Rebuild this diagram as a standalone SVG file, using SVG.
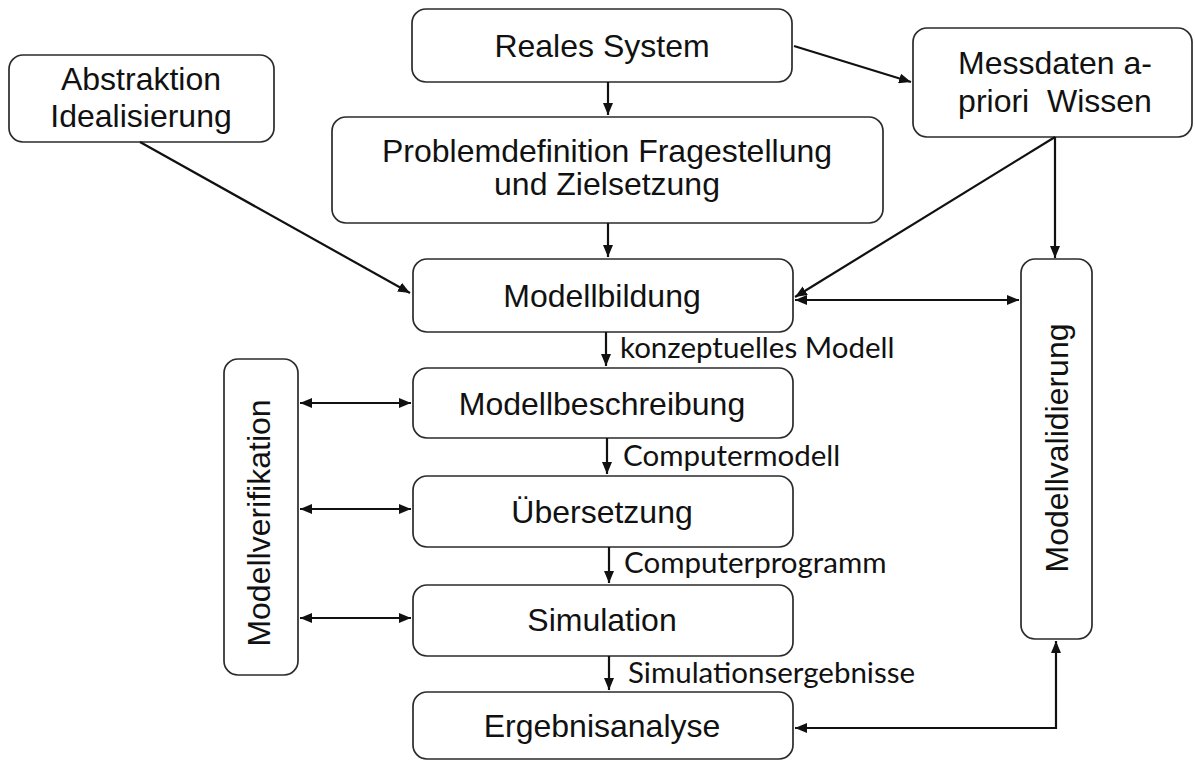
<svg xmlns="http://www.w3.org/2000/svg" width="1195" height="762" viewBox="0 0 1195 762">
  <style>
    .box { fill: #ffffff; stroke: #2b2b2b; stroke-width: 1.7; }
    .lbl { font-family: "Liberation Sans", Arial, sans-serif; font-size: 32px; fill: #111111; text-anchor: middle; }
    .edge { fill: none; stroke: #111111; stroke-width: 2.2; }
    .note { font-family: Lato, "Open Sans", sans-serif; font-size: 29.5px; fill: #111111; }
  </style>
  <defs>
    <marker id="head" viewBox="0 0 12 10" refX="12" refY="5" markerWidth="12" markerHeight="10" markerUnits="userSpaceOnUse" orient="auto-start-reverse">
      <path d="M0,0 L12,5 L0,10 z" fill="#111111"/>
    </marker>
  </defs>
  <rect width="1195" height="762" fill="#ffffff"/>

  <!-- process boxes -->
  <g id="reales-system">
    <rect class="box" x="412" y="9" width="380" height="73" rx="14"/>
    <text class="lbl" x="602" y="57">Reales System</text>
  </g>
  <g id="abstraktion">
    <rect class="box" x="9" y="55" width="265" height="87" rx="14"/>
    <text class="lbl" x="141" y="90">Abstraktion</text>
    <text class="lbl" x="141" y="127">Idealisierung</text>
  </g>
  <g id="messdaten">
    <rect class="box" x="913" y="28" width="279" height="109" rx="14"/>
    <text class="lbl" x="1055" y="74">Messdaten a-</text>
    <text class="lbl" x="1055" y="112" xml:space="preserve">priori  Wissen</text>
  </g>
  <g id="problemdefinition">
    <rect class="box" x="332" y="117" width="551" height="106" rx="14"/>
    <text class="lbl" x="607" y="162">Problemdefinition Fragestellung</text>
    <text class="lbl" x="607" y="195">und Zielsetzung</text>
  </g>
  <g id="modellbildung">
    <rect class="box" x="413" y="259" width="380" height="73" rx="14"/>
    <text class="lbl" x="602" y="307">Modellbildung</text>
  </g>
  <g id="modellbeschreibung">
    <rect class="box" x="413" y="368" width="380" height="70" rx="14"/>
    <text class="lbl" x="602" y="415">Modellbeschreibung</text>
  </g>
  <g id="uebersetzung">
    <rect class="box" x="413" y="476" width="380" height="71" rx="14"/>
    <text class="lbl" x="602" y="523">Übersetzung</text>
  </g>
  <g id="simulation">
    <rect class="box" x="413" y="585" width="380" height="71" rx="14"/>
    <text class="lbl" x="602" y="631">Simulation</text>
  </g>
  <g id="ergebnisanalyse">
    <rect class="box" x="413" y="692" width="380" height="67" rx="14"/>
    <text class="lbl" x="602" y="737">Ergebnisanalyse</text>
  </g>
  <g id="modellverifikation">
    <rect class="box" x="224" y="359" width="74" height="316" rx="14"/>
    <text class="lbl" transform="translate(270,523) rotate(-90)">Modellverifikation</text>
  </g>
  <g id="modellvalidierung">
    <rect class="box" x="1021" y="259" width="71" height="380" rx="14"/>
    <text class="lbl" transform="translate(1068,448) rotate(-90)">Modellvalidierung</text>
  </g>

  <!-- connectors -->
  <g id="connectors">
    <line class="edge" x1="608" y1="82" x2="608" y2="115" marker-end="url(#head)"/>
    <line class="edge" x1="608" y1="223" x2="608" y2="257" marker-end="url(#head)"/>
    <line class="edge" x1="794" y1="46" x2="911" y2="82" marker-end="url(#head)"/>
    <line class="edge" x1="140" y1="142" x2="410" y2="293" marker-end="url(#head)"/>
    <line class="edge" x1="1055" y1="137" x2="795" y2="297" marker-end="url(#head)"/>
    <line class="edge" x1="1055" y1="137" x2="1055" y2="258" marker-end="url(#head)"/>
    <line class="edge" x1="795" y1="300" x2="1019" y2="300" marker-start="url(#head)" marker-end="url(#head)"/>
    <line class="edge" x1="606" y1="332" x2="606" y2="366" marker-end="url(#head)"/>
    <line class="edge" x1="607" y1="438" x2="607" y2="474" marker-end="url(#head)"/>
    <line class="edge" x1="609" y1="547" x2="609" y2="583" marker-end="url(#head)"/>
    <line class="edge" x1="609" y1="656" x2="609" y2="690" marker-end="url(#head)"/>
    <line class="edge" x1="300" y1="403" x2="411" y2="403" marker-start="url(#head)" marker-end="url(#head)"/>
    <line class="edge" x1="300" y1="509" x2="411" y2="509" marker-start="url(#head)" marker-end="url(#head)"/>
    <line class="edge" x1="300" y1="618" x2="411" y2="618" marker-start="url(#head)" marker-end="url(#head)"/>
    <polyline class="edge" points="795,728 1056,728 1056,641" marker-start="url(#head)" marker-end="url(#head)"/>
    <text class="note" x="620" y="358">konzeptuelles Modell</text>
    <text class="note" x="623" y="466">Computermodell</text>
    <text class="note" x="624" y="573">Computerprogramm</text>
    <text class="note" x="628" y="683">Simulationsergebnisse</text>
  </g>
</svg>
